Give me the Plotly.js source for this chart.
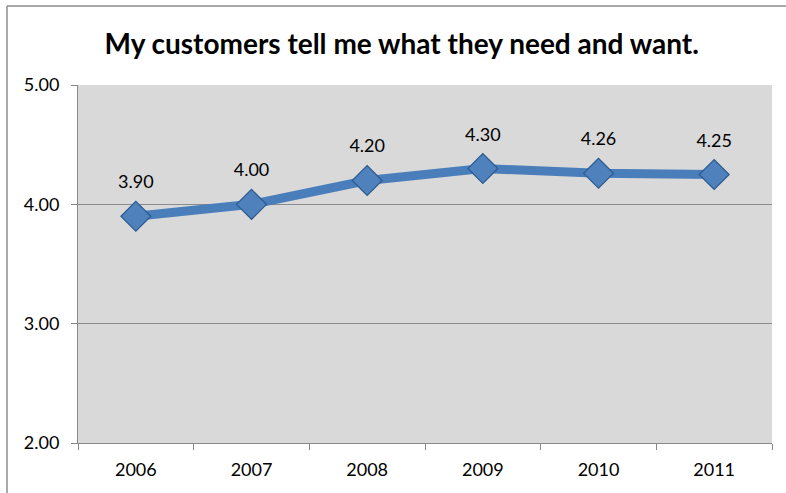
<!DOCTYPE html>
<html>
<head>
<meta charset="utf-8">
<script src="https://cdn.plot.ly/plotly-3.0.1.min.js"></script>
<style>html,body{margin:0;padding:0;background:#fff;}#chart{width:786px;height:493px;}</style>
</head>
<body>
<div id="chart"></div>
<script>
var years = ["2006", "2007", "2008", "2009", "2010", "2011"];
var scores = [3.90, 4.00, 4.20, 4.30, 4.26, 4.25];
var yTicks = [2, 3, 4, 5];
var yTickLabels = ["2.00", "3.00", "4.00", "5.00"];

var FONT = "Lato, Noto Sans, sans-serif";

var trace = {
  x: years,
  y: scores,
  type: "scatter",
  mode: "lines+markers",
  line: {color: "#4a7ebb", width: 9},
  marker: {symbol: "diamond", size: 23, color: "#4f81bd", line: {color: "#2c5a8f", width: 1.2}},
  hoverinfo: "x+y"
};

var labelTrace = {
  x: years,
  y: scores,
  type: "scatter",
  mode: "markers+text",
  marker: {size: 36, opacity: 0, color: "#ffffff"},
  text: scores.map(function (v) { return v.toFixed(2); }),
  textposition: "top center",
  textfont: {family: FONT, size: 18, color: "#000"},
  hoverinfo: "skip",
  cliponaxis: false
};

var layout = {
  width: 786, height: 493,
  margin: {l: 78, r: 14, t: 85, b: 50},
  paper_bgcolor: "#ffffff",
  plot_bgcolor: "#d9d9d9",
  showlegend: false,
  title: {
    text: "<b>My customers tell me what they need and want.</b>",
    font: {family: FONT, size: 28, color: "#000"},
    x: 0.511, xanchor: "center", y: 0.91, yanchor: "middle"
  },
  xaxis: {
    type: "category",
    range: [-0.5, 5.5],
    showgrid: false,
    showline: true, linecolor: "#888888", linewidth: 1,
    ticks: "outside", ticklen: 6, tickcolor: "#888888",
    tickson: "boundaries",
    tickfont: {family: FONT, size: 18, color: "#000"},
    ticklabelstandoff: 10,
    zeroline: false, fixedrange: true
  },
  yaxis: {
    range: [2, 5],
    tickvals: yTicks, ticktext: yTickLabels,
    showgrid: true, gridcolor: "#8c8c8c", gridwidth: 1,
    showline: true, linecolor: "#888888", linewidth: 1,
    ticks: "outside", ticklen: 6, tickcolor: "#888888",
    tickfont: {family: FONT, size: 18, color: "#000"},
    ticklabelstandoff: 8,
    zeroline: false, fixedrange: true
  },
  shapes: [
    {type: "line", xref: "paper", yref: "paper", x0: -0.1023, x1: 1.03, y0: 1.2207, y1: 1.2207,
     line: {color: "#8c8c8c", width: 1.5}},
    {type: "line", xref: "paper", yref: "paper", x0: -0.1023, x1: -0.1023, y0: -0.15, y1: 1.2207,
     line: {color: "#8c8c8c", width: 1.5}}
  ]
};

Plotly.newPlot("chart", [trace, labelTrace], layout, {displayModeBar: false, staticPlot: true});
</script>
</body>
</html>
